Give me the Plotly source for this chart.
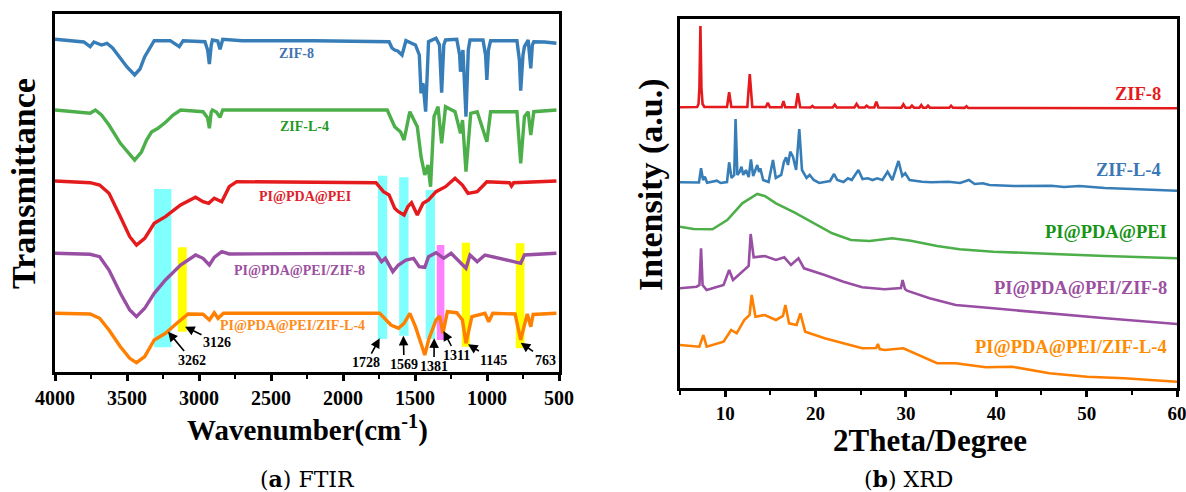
import plotly.graph_objects as go

W, H = 1186, 492
SERIF = "Liberation Serif"

# ---------------- FTIR data (wavenumber, cm-1 ; transmittance, a.u., stacked) ----------------
zif8_w = [4000, 3900, 3800, 3756, 3730, 3677, 3639, 3600, 3546, 3500, 3447, 3410, 3377, 3340, 3311, 3200, 3137, 3110,
          2959, 2940, 2928, 2915, 2907, 2870, 2854, 2835, 2700, 2200, 1900, 1680, 1660, 1641, 1620, 1590, 1563, 1497,
          1470, 1458, 1450, 1444, 1426, 1406, 1354, 1330, 1315, 1300, 1288, 1210, 1190, 1184, 1167, 1146, 1130, 1118,
          1028, 1010, 1001, 990, 975, 792, 775, 766, 750, 740, 714, 700, 696, 685, 675, 600, 518]
zif8_t = [332.7, 331, 330, 325.3, 330, 327, 328.7, 324, 313.7, 305, 297, 303, 315.3, 325, 331.3, 331.3, 325.3, 331.3,
          330.3, 322, 308, 327, 332, 331, 322.7, 332.7, 331.3, 331.3, 331, 330.3, 324, 322, 321, 317, 331.3, 327,
          317, 278.7, 287, 288.7, 260.3, 330.3, 333.7, 327, 279.3, 327, 332, 332.7, 317, 300.3, 322, 255.3, 322, 332,
          332, 317, 292, 322, 331.3, 331.3, 312, 281.3, 317, 325.3, 332, 312, 303.7, 327, 330.3, 330, 328.7]

zifl_w = [4000, 3756, 3720, 3677, 3625, 3546, 3447, 3400, 3364, 3330, 3285, 3230, 3180, 3128, 2972, 2940, 2928, 2915,
          2907, 2880, 2854, 2835, 1693, 1660, 1641, 1600, 1576, 1536, 1484, 1458, 1432, 1410, 1392, 1368, 1340, 1315,
          1288, 1222, 1184, 1170, 1146, 1113, 1068, 1001, 975, 792, 766, 740, 714, 696, 675, 518]
zifl_t = [262, 258.7, 262, 257, 247, 228.7, 212, 220, 232, 240, 243.7, 250, 257, 262, 260.3, 254, 243.7, 260,
          262, 260, 254.7, 262, 262, 250, 245.3, 240, 232, 260.3, 245.3, 215.3, 197, 207, 185.3, 255.3, 265.3, 228.7,
          265.3, 260.3, 238.7, 252, 200.3, 258.7, 260.3, 230.3, 260.3, 260.3, 208.7, 255.3, 260.3, 237, 260.3, 262]

pei_w = [4000, 3756, 3690, 3625, 3546, 3481, 3434, 3377, 3311, 3233, 3128, 3024, 2972, 2933, 2894, 2842, 2790, 2738,
         1771, 1719, 1680, 1641, 1615, 1576, 1550, 1524, 1484, 1444, 1406, 1354, 1288, 1222, 1171, 1132, 1068, 1001,
         844, 830, 815, 518]
pei_t = [191, 189.3, 187, 178.7, 155.3, 135.3, 127, 133.7, 148.7, 155.3, 167, 174.7, 170.3, 168.7, 173.7, 170.3, 185.3, 190.3,
         189.3, 180.3, 177, 163.7, 160.3, 157, 165.3, 169.3, 157, 168.7, 172, 180.3, 185.3, 193.7, 187, 178.7, 180.3, 190.3,
         189.3, 186, 189.3, 191]

pz8_w = [4000, 3756, 3690, 3625, 3546, 3481, 3434, 3377, 3311, 3233, 3128, 3024, 2972, 2928, 2894, 2842, 2790, 1771,
         1732, 1706, 1654, 1615, 1563, 1510, 1471, 1432, 1406, 1354, 1301, 1249, 1146, 1118, 1068, 1014, 766, 740, 518]
pz8_t = [118.7, 117.7, 115.3, 102, 78.7, 62, 55.3, 63.7, 78.7, 92, 107, 117, 113.7, 107, 114.7, 120.3, 118, 118.7,
         110.3, 113.7, 100.3, 107, 112, 113.7, 105.3, 104.7, 115.3, 119.3, 113.7, 118.7, 103.7, 117, 110.3, 117, 108.7, 117, 118.7]

pzl_w = [4000, 3756, 3690, 3625, 3546, 3481, 3434, 3377, 3311, 3233, 3154, 3076, 2972, 2928, 2894, 2868, 2830, 1745,
         1667, 1615, 1576, 1536, 1497, 1458, 1432, 1406, 1354, 1328, 1306, 1275, 1210, 1171, 1146, 1105, 1014, 988, 960,
         805, 766, 740, 720, 696, 680, 518]
pzl_t = [58.7, 58, 53.7, 42, 25.3, 13.7, 9.3, 15.3, 32, 38.7, 48.7, 58, 57.7, 52, 59.3, 53.7, 58.7, 58.7,
         47, 43.7, 48.7, 58.7, 45.3, 28.7, 17, 32, 52, 56, 38.7, 60.3, 59.3, 52, 28.7, 55.3, 58.7, 50.3, 58.7,
         58, 32, 47, 58, 45.3, 57.5, 58.7]

ftir_ticks = [4000, 3500, 3000, 2500, 2000, 1500, 1000, 500]

# highlighted bands
bands_w0 = [3312, 3147, 1758, 1610, 1426, 1349, 1175, 800]
bands_w1 = [3192, 3085, 1693, 1545, 1361, 1296, 1118, 740]
bands_t0 = [24.7, 40.3, 33, 36.3, 33, 32, 25.3, 23.7]
bands_t1 = [183, 124.7, 196.3, 194.7, 182, 127, 129.3, 128.7]
bands_c = ["#80ffff", "#ffff00", "#80ffff", "#80ffff", "#80ffff", "#ff80ff", "#ffff00", "#ffff00"]

# peak labels: text, label position, arrow head
peak_txt = ["3262", "3126", "1728", "1569", "1381", "1311", "1145", "763"]
peak_lx = [3051, 2875, 1837, 1576, 1368, 1215, 954, 597]
peak_ly = [12, 29.7, 9.3, 8, 6, 17, 12, 12]
peak_hx = [3215, 3097, 1745, 1581, 1367, 1302, 1132, 766]
peak_hy = [40.3, 45.3, 33.7, 36.3, 33.7, 41, 27.7, 29.3]

# ---------------- XRD data (2theta, degree ; intensity, a.u., stacked) ----------------
x_zif8 = [5.0, 6.9, 7.05, 7.15, 7.26, 7.37, 7.5, 7.7, 10.2, 10.44, 10.68, 12.45, 12.72, 13.0, 14.5, 14.72, 14.95,
          16.25, 16.45, 16.65, 17.8, 18.04, 18.3, 19.45, 19.65, 19.85, 21.9, 22.13, 22.35, 24.3, 24.54, 24.8,
          25.45, 25.66, 25.9, 26.5, 26.73, 26.95, 29.5, 29.72, 29.95, 30.45, 30.67, 30.9, 31.5, 31.7, 31.9,
          32.25, 32.45, 32.65, 34.8, 35.0, 35.2, 36.5, 36.7, 36.9, 60.0]
i_zif8 = [280.7, 281, 284, 300, 362, 300, 284, 281, 281, 295.7, 281, 281, 314, 281, 281, 285.3, 280.7,
          280.7, 287, 280.7, 280.7, 294.7, 280.7, 280.5, 282, 280.5, 280.5, 283.3, 280.5, 280.5, 284, 280.5,
          280.5, 282.3, 280.5, 280.5, 286.3, 280.5, 280.3, 283.7, 280.3, 280.3, 282.3, 280.3, 280.3, 283, 280.3,
          280.3, 282.3, 280.3, 280.2, 282.3, 280.2, 280.1, 281.7, 280.1, 279.7]

x_zifl = [5.0, 7.1, 7.33, 7.55, 7.75, 8.0, 9.08, 9.5, 10.2, 10.44, 10.7, 11.0, 11.15, 11.35, 11.6, 11.8, 12.0, 12.3,
          12.6, 12.85, 13.1, 13.55, 13.75, 13.89, 14.2, 14.8, 15.29, 15.6, 16.2, 16.5, 16.74, 16.95, 17.2, 17.5,
          17.85, 18.2, 18.5, 18.73, 19.0, 19.35, 19.8, 20.4, 21.01, 21.6, 22.05, 22.4, 23.1, 23.59, 24.0, 24.74,
          25.2, 25.78, 26.3, 26.82, 27.4, 27.97, 28.5, 29.18, 29.6, 29.92, 30.4, 31.0, 31.79, 32.8, 33.66, 34.69,
          36.0, 36.97, 37.6, 38.51, 39.25, 42.0, 46.09, 47.5, 49.2, 52.0, 55.0, 60.0]
i_zifl = [205.7, 205.5, 219.7, 208, 211.3, 205.3, 207.3, 205, 206, 225.7, 210, 213, 269, 213, 216, 221.3, 213, 218,
          211, 228.7, 212, 223, 216, 219.7, 208, 206, 228, 210, 213, 226, 230.7, 223, 236.3, 231.3,
          218, 259, 218, 214.7, 210, 213, 208, 205, 206.3, 207, 214, 208, 206, 209.7, 208, 218,
          209, 209.7, 208, 209.7, 208, 216.3, 208, 227, 212, 214.7, 208, 207, 206.3, 205.7, 206.3, 206.3,
          205, 208, 204, 204.7, 203, 202, 202.3, 201, 202, 200, 199, 197.3]

x_pei = [5, 6.5, 8.59, 10.23, 11.89, 13.55, 14.38, 15.62, 17.7, 19.77, 21.84, 23.92, 25.99, 28.47, 30.55, 33.45,
         35.94, 39.67, 45.88, 52.1, 60]
i_pei = [161.3, 159, 158.7, 168, 184.7, 194, 192, 184.7, 175.3, 164.7, 154.7, 148, 147, 149.7, 147.3, 142,
         138.7, 136.3, 134, 132, 129.7]

x_pz8 = [5, 6.84, 7.15, 7.33, 7.5, 7.95, 9.82, 10.44, 10.87, 12.11, 12.6, 12.82, 13.15, 14.38, 15.62, 16.54, 17.28,
         18.11, 18.73, 21.01, 23.09, 25.16, 27.64, 29.45, 29.63, 29.9, 30.13, 32.62, 35.51, 39.67, 41.74, 45.88,
         52.1, 60]
i_pz8 = [99.7, 101.3, 103, 139.7, 103, 98, 103, 118, 108, 118, 122, 154, 130.7, 132, 128, 130.7, 123,
         129.7, 119.7, 113, 106.3, 100.7, 98.7, 100, 108, 99, 97.3, 89.7, 83, 79.7, 78, 74.7,
         69.7, 64]

x_pzl = [5, 7.14, 7.59, 7.95, 9.82, 10.66, 11.27, 12.11, 12.7, 12.93, 13.35, 14.38, 15.62, 16.4, 16.66, 17.07, 17.9,
         18.32, 18.85, 21.01, 23.09, 25.16, 26.7, 26.9, 27.1, 27.64, 29.72, 31.38, 33.45, 35.51, 38.84, 41.74,
         45.88, 50.03, 54.17, 60]
i_pzl = [43, 41.3, 53, 41.3, 46.3, 58, 54.7, 68, 73, 93, 71.3, 73, 68, 72, 83, 64.7, 63,
         74.7, 56.3, 49.7, 44.7, 39.7, 40, 44, 39, 38, 39.7, 33, 24.7, 24.7, 20.7, 21.3,
         14.7, 11.3, 9.7, 6.3]

xrd_ticks = [10, 20, 30, 40, 50, 60]

names = ["ZIF-8", "ZIF-L-4", "PI@PDA@PEI", "PI@PDA@PEI/ZIF-8", "PI@PDA@PEI/ZIF-L-4"]

# ---------------- figure ----------------
fig = go.Figure()

ftir_series = [(zif8_w, zif8_t, "#377eb8"), (zifl_w, zifl_t, "#4daf4a"), (pei_w, pei_t, "#e41a1c"),
               (pz8_w, pz8_t, "#984ea3"), (pzl_w, pzl_t, "#ff7f00")]
for (xs, ys, c), n in zip(ftir_series, names):
    fig.add_trace(go.Scatter(x=xs, y=ys, mode="lines", name=n, line=dict(color=c, width=3.4),
                             xaxis="x", yaxis="y", showlegend=False))

xrd_series = [(x_zif8, i_zif8, "#e41a1c"), (x_zifl, i_zifl, "#377eb8"), (x_pei, i_pei, "#4daf4a"),
              (x_pz8, i_pz8, "#984ea3"), (x_pzl, i_pzl, "#ff7f00")]
for (xs, ys, c), n in zip(xrd_series, names):
    fig.add_trace(go.Scatter(x=xs, y=ys, mode="lines", name=n, line=dict(color=c, width=2.6),
                             xaxis="x2", yaxis="y2", showlegend=False))

shapes = []
for a, b, lo, hi, c in zip(bands_w0, bands_w1, bands_t0, bands_t1, bands_c):
    shapes.append(dict(type="rect", xref="x", yref="y", x0=a, x1=b, y0=lo, y1=hi,
                       fillcolor=c, line=dict(width=0), layer="below"))

ann = []
for t, lx, ly, hx, hy in zip(peak_txt, peak_lx, peak_ly, peak_hx, peak_hy):
    ann.append(dict(xref="x", yref="y", x=hx, y=hy, ax=lx, ay=ly, axref="x", ayref="y",
                    text="<b>%s</b>" % t, showarrow=True, arrowhead=2, arrowsize=1.2, arrowwidth=1.6,
                    arrowcolor="black", font=dict(family=SERIF, size=14, color="black")))

# curve labels FTIR
ftir_lab_x = [2320, 2264, 2264, 2301, 2354]
ftir_lab_y = [318, 246, 176, 102, 46.3]
ftir_lab_c = ["#4472b0", "#1f9a1f", "#e0202a", "#9b4fa0", "#ff8c1a"]
for n, x, y, c in zip(names, ftir_lab_x, ftir_lab_y, ftir_lab_c):
    ann.append(dict(xref="x", yref="y", x=x, y=y, text="<b>%s</b>" % n, showarrow=False,
                    font=dict(family=SERIF, size=14, color=c)))

# curve labels XRD (right aligned)
xrd_lab_x = [58.45, 58.45, 59.1, 59.1, 59.1]
xrd_lab_y = [294, 218, 156.3, 99.7, 41.3]
xrd_lab_c = ["#e41a1c", "#3a78b5", "#169416", "#9b4fa0", "#ff8c00"]
for n, x, y, c in zip(names, xrd_lab_x, xrd_lab_y, xrd_lab_c):
    ann.append(dict(xref="x2", yref="y2", x=x, y=y, text="<b>%s</b>" % n, showarrow=False, xanchor="right",
                    font=dict(family=SERIF, size=18.5, color=c)))


def P(px, py):
    return px / W, 1 - py / H


def title(text, px, py, size, angle=0, family=SERIF):
    x, y = P(px, py)
    ann.append(dict(xref="paper", yref="paper", x=x, y=y, text=text, showarrow=False, textangle=angle,
                    xanchor="center", yanchor="middle", font=dict(family=family, size=size, color="black")))


title("<b>Transmittance</b>", 23, 184, 34, angle=-90)
title("<b>Intensity (a.u.)</b>", 651, 185, 34, angle=-90)
title("<b>Wavenumber(cm<sup>-1</sup>)</b>", 307, 428, 29)
title("<b>2Theta/Degree</b>", 930, 440, 31)
title("(<b>a</b>) FTIR", 307, 479, 22, family="DejaVu Serif")
title("(<b>b</b>) XRD", 908, 479, 22, family="DejaVu Serif")

axis_common = dict(showline=True, mirror=True, linecolor="black", linewidth=3, showgrid=False, zeroline=False,
                   automargin=False)

fig.update_layout(
    width=W, height=H, margin=dict(l=0, r=0, t=0, b=0, autoexpand=False),
    paper_bgcolor="white", plot_bgcolor="white",
    shapes=shapes, annotations=ann,
    xaxis=dict(domain=[55 / W, 559 / W], range=[4000, 500], tickvals=ftir_ticks,
               ticktext=[str(v) for v in ftir_ticks], ticks="outside", ticklen=6, tickwidth=2.5, tickcolor="black",
               minor=dict(ticks="outside", ticklen=4, tickwidth=2, tickcolor="black", dtick=250, tick0=0),
               ticklabeloverflow="allow",
               tickfont=dict(family=SERIF, size=20, color="black", weight="bold"), anchor="y", **axis_common),
    yaxis=dict(domain=[1 - 372 / H, 1 - 14 / H], range=[0, 358], showticklabels=False, ticks="",
               anchor="x", **axis_common),
    xaxis2=dict(domain=[680 / W, 1177 / W], range=[5, 60], tickvals=xrd_ticks,
                ticks="outside", ticklen=6, tickwidth=2.5, tickcolor="black",
                minor=dict(ticks="outside", ticklen=4, tickwidth=2, tickcolor="black", dtick=5, tick0=0),
                ticklabeloverflow="allow",
                tickfont=dict(family=SERIF, size=19, color="black", weight="bold"), anchor="y2", **axis_common),
    yaxis2=dict(domain=[1 - 388 / H, 1 - 19 / H], range=[0, 369], showticklabels=False, ticks="",
                anchor="x2", **axis_common),
)

fig.write_html("out.html")
